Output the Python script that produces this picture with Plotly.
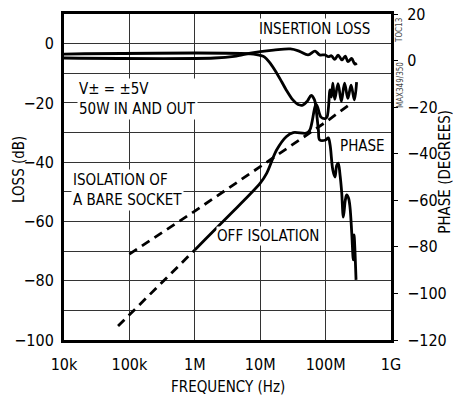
import plotly.graph_objects as go

# ---------------- data ----------------
freq_ticks = [1e4, 1e5, 1e6, 1e7, 1e8, 1e9]
freq_labels = ["10k", "100k", "1M", "10M", "100M", "1G"]

# Insertion loss (dB, left axis)
il_freq = [1e4, 2.0e6, 4.0e6, 7.1e6, 1.0e7, 1.6e7, 2.9e7, 4.0e7, 5.4e7, 6.9e7,
           8.1e7, 9.8e7, 1.1e8, 1.23e8, 1.38e8, 1.55e8, 1.78e8, 2.0e8, 2.2e8,
           2.5e8, 2.8e8, 3.0e8]
il_db = [-4.85, -4.85, -4.3, -3.2, -2.7, -2.2, -1.8, -2.6, -3.8, -2.5,
         -3.8, -3.8, -4.4, -4.1, -5.3, -3.9, -5.5, -4.2, -6.1,
         -5.0, -6.9, -6.6]

# Phase (degrees, right axis)
ph_freq = [1e4, 7.9e6, 1.0e7, 1.17e7, 1.41e7, 1.78e7, 2.14e7, 2.5e7, 3.16e7,
           3.8e7, 4.47e7, 5.25e7, 6.0e7, 6.76e7, 7.24e7, 7.76e7, 8.13e7,
           1.0e8, 1.1e8, 1.17e8, 1.29e8, 1.39e8, 1.48e8, 1.56e8, 1.66e8,
           1.76e8, 1.87e8, 2.0e8, 2.1e8, 2.24e8, 2.36e8, 2.51e8, 2.65e8,
           2.72e8, 2.92e8]
ph_deg = [2.8, 2.8, 2.2, 1.5, -1.0, -5.3, -9.2, -12.6, -16.9,
          -18.9, -19.1, -17.4, -15.0, -16.9, -22.1, -29.8, -34.1,
          -34.1, -33.2, -36.2, -47.0, -50.0, -45.0, -44.0, -49.0,
          -56.4, -67.2, -60.0, -57.7, -59.0, -62.9, -74.0, -85.6,
          -74.9, -94.2]

# Off isolation (dB): measured part (solid) and extrapolated part (dashed)
off_freq = [1.0e6, 1.5e6, 3.16e6, 1.0e7, 1.26e7, 1.78e7, 2.5e7, 3.2e7, 5.1e7,
            5.75e7, 7.2e7, 8.5e7, 9.8e7, 1.05e8, 1.17e8, 1.23e8, 1.29e8,
            1.38e8, 1.55e8, 1.74e8, 1.95e8, 2.19e8, 2.45e8, 2.75e8, 2.98e8]
off_db = [-69.6, -65.7, -58.5, -47.1, -43.7, -35.9, -31.4, -30.0, -30.2,
          -29.1, -20.5, -24.8, -25.3, -24.8, -15.6, -18.0, -13.3,
          -18.8, -13.5, -19.5, -13.3, -18.5, -14.0, -19.0, -13.0]
off_ext_freq = [6.7e4, 1.0e6]
off_ext_db = [-95.3, -69.6]

# Isolation of a bare socket (dB, dashed)
sock_freq = [1e5, 1e6, 1e7, 1e8, 2.5e8]
sock_db = [-71.0, -56.5, -41.5, -26.5, -20.0]

loss_ticks = [-100, -80, -60, -40, -20, 0]
phase_ticks = [-120, -100, -80, -60, -40, -20, 0, 20]

FONT = "DejaVu Sans Condensed, Liberation Sans Narrow, sans-serif"
LW = 2.8
TXT = 15

fig = go.Figure()
line = dict(color="black", width=LW)
fig.add_trace(go.Scatter(x=il_freq, y=il_db, mode="lines", line=line,
                         line_shape="spline", name="Insertion loss"))
fig.add_trace(go.Scatter(x=ph_freq, y=ph_deg, mode="lines", line=line,
                         line_shape="spline", name="Phase", yaxis="y2"))
fig.add_trace(go.Scatter(x=off_freq, y=off_db, mode="lines", line=line,
                         line_shape="spline", name="Off isolation"))
fig.add_trace(go.Scatter(x=off_ext_freq, y=off_ext_db, mode="lines",
                         line=dict(color="black", width=LW, dash="9px,6px"),
                         name="Off isolation (ext)"))
fig.add_trace(go.Scatter(x=sock_freq, y=sock_db, mode="lines",
                         line=dict(color="black", width=LW, dash="9px,6px"),
                         name="Bare socket"))

grid = "#333333"
fig.update_layout(
    width=453, height=402,
    margin=dict(l=64, r=62, t=14, b=62),
    paper_bgcolor="white", plot_bgcolor="white",
    showlegend=False,
    font=dict(family=FONT, size=TXT, color="black"),
    xaxis=dict(type="log", range=[4, 9], tickvals=freq_ticks, ticktext=freq_labels,
               showgrid=True, gridcolor=grid, gridwidth=1, zeroline=False,
               showline=True, mirror=True, linecolor="black", linewidth=3,
               ticks="", tickfont=dict(size=16), ticklabelstandoff=8,
               automargin=False),
    yaxis=dict(range=[-100, 10], tickvals=loss_ticks, showgrid=True,
               gridcolor=grid, gridwidth=1, zeroline=False,
               minor=dict(dtick=10, tick0=0, showgrid=True, gridcolor=grid, gridwidth=1),
               showline=True, mirror=True, linecolor="black", linewidth=3,
               ticks="", tickfont=dict(size=16), ticklabelstandoff=4,
               automargin=False),
    yaxis2=dict(range=[-120, 20], tickvals=phase_ticks, overlaying="y", side="right",
                showgrid=False, zeroline=False, showline=False,
                ticks="outside", ticklen=6, tickwidth=1, tickcolor="black",
                tickfont=dict(size=16), ticklabelstandoff=6,
                automargin=False),
)

# axis titles
fig.add_annotation(text="FREQUENCY (Hz)", x=0.5015, y=-0.144, xref="paper", yref="paper",
                   showarrow=False, xanchor="center", yanchor="middle",
                   font=dict(family=FONT, size=TXT))
fig.add_annotation(text="LOSS (dB)", x=-0.1376, y=0.5215, xref="paper", yref="paper",
                   showarrow=False, textangle=-90, xanchor="center", yanchor="middle",
                   font=dict(family=FONT, size=TXT))
fig.add_annotation(text="PHASE (DEGREES)", x=1.167, y=0.515, xref="paper", yref="paper",
                   showarrow=False, textangle=-90, xanchor="center", yanchor="middle",
                   font=dict(family=FONT, size=TXT))

def label(text, x, y, xanchor="left", pad=1):
    fig.add_annotation(text=text, x=x, y=y, xref="x", yref="y", showarrow=False,
                       xanchor=xanchor, yanchor="middle", align="left",
                       bgcolor="white", borderpad=pad,
                       font=dict(family=FONT, size=TXT, color="black"))

label("INSERTION LOSS", 7.823, 4.94, xanchor="center")
label("V± = ±5V<br>50W IN AND OUT", 4.199, -18.7)
label("PHASE", 8.19, -34.5)
label("ISOLATION OF<br>A BARE SOCKET", 4.107, -49.4)
label("OFF ISOLATION", 6.324, -64.9, pad=0)

for txt, yp in [("TOC13", 0.951), ("MAX349/350", 0.782)]:
    fig.add_annotation(text=txt, x=1.0275, y=yp, xref="paper", yref="paper",
                       showarrow=False, textangle=-90, xanchor="center", yanchor="middle",
                       font=dict(family=FONT, size=8, color="#444"))

fig.write_html("out.html")
